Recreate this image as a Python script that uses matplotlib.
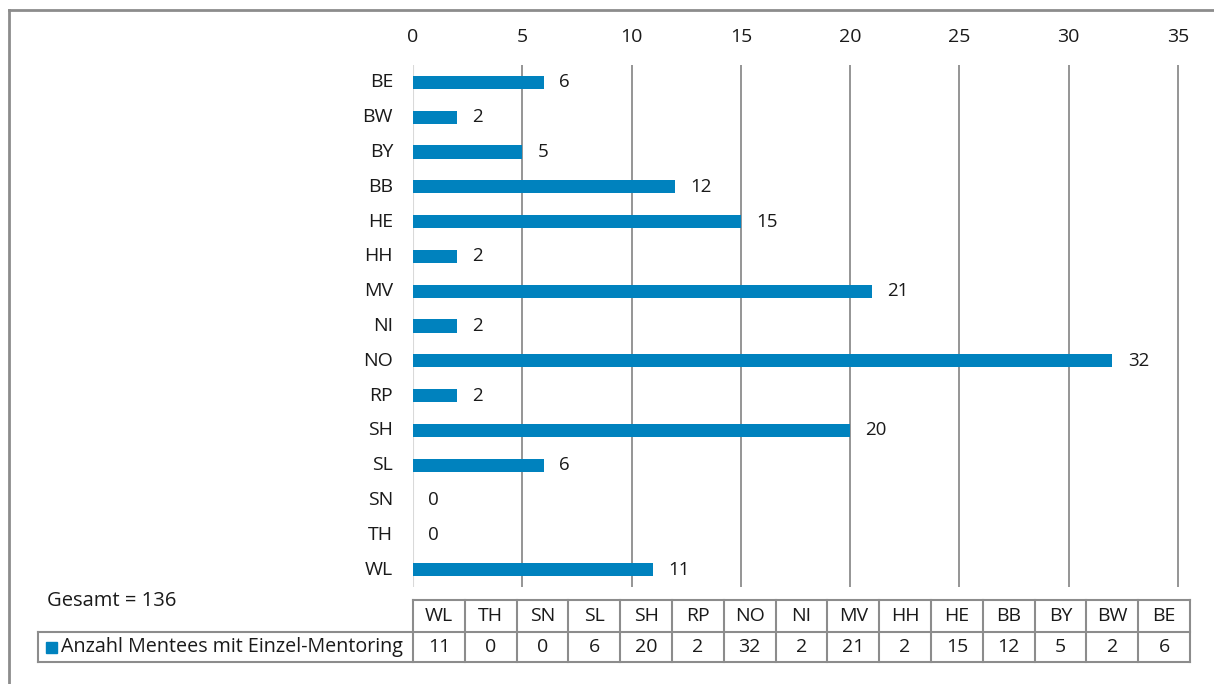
import matplotlib
matplotlib.use("Agg")
import matplotlib.pyplot as plt
from matplotlib.patches import Rectangle

categories = ["BE", "BW", "BY", "BB", "HE", "HH", "MV", "NI", "NO", "RP", "SH", "SL", "SN", "TH", "WL"]
values = [6, 2, 5, 12, 15, 2, 21, 2, 32, 2, 20, 6, 0, 0, 11]
x_ticks = [0, 5, 10, 15, 20, 25, 30, 35]
series_name = "Anzahl Mentees mit Einzel-Mentoring"
total_label = "Gesamt = 136"

BAR = "#0082BE"
GRID = "#8c8c8c"
TXT = "#1a1a1a"
plt.rcParams['font.family'] = ['Open Sans', 'DejaVu Sans']
FS = 14

W, H = 1214, 684
fig = plt.figure(figsize=(W / 100, H / 100), dpi=100)

def fx(px):
    return px / W

def fy(py):
    return 1 - py / H

ax_left, ax_right, ax_top, ax_bot = 413, 1190, 65, 587
ax = fig.add_axes([fx(ax_left), fy(ax_bot), fx(ax_right - ax_left), (ax_bot - ax_top) / H])
xmax = 35 * (ax_right - ax_left) / (1178 - ax_left)
ypos = list(range(len(categories)))
ax.barh(ypos, values, height=0.38, color=BAR, zorder=3)
ax.set_xlim(0, xmax)
ax.set_ylim(len(categories) - 0.5, -0.5)
ax.set_yticks(ypos)
ax.set_yticklabels(categories, fontsize=FS, color=TXT)
ax.set_xticks(x_ticks)
ax.set_xticklabels([str(t) for t in x_ticks], fontsize=FS, color=TXT)
ax.xaxis.tick_top()
ax.tick_params(axis='both', length=0)
ax.tick_params(axis='x', pad=14)
ax.tick_params(axis='y', pad=14.4)
for lbl in ax.get_yticklabels():
    lbl.set_verticalalignment('center')
for s in ax.spines.values():
    s.set_visible(False)
for t in x_ticks:
    if t == 0:
        ax.axvline(t, color="#d9d9d9", lw=1.5, zorder=2)
    else:
        ax.axvline(t, color=GRID, lw=1.3, zorder=1)
for y, v in zip(ypos, values):
    ax.text(v + 0.7, y, str(v), va='center', ha='left', fontsize=13.5, color=TXT)

# outer frame (top and left edges visible)
fig.add_artist(plt.Line2D([fx(8.5), 1.0], [fy(9.5), fy(9.5)], transform=fig.transFigure, color="#8c8c8c", lw=2))
fig.add_artist(plt.Line2D([fx(8.5), fx(8.5)], [fy(9.5), 0], transform=fig.transFigure, color="#8c8c8c", lw=2))

fig.text(fx(47), fy(601), total_label, fontsize=14.5, color=TXT, va='center', ha='left')

# data table
tbl_cats = categories[::-1]
tbl_vals = values[::-1]
n = len(tbl_cats)
colw = (ax_right - ax_left) / n
r0, r1, r2 = 600, 632, 662
LC = "#8c8c8c"

def hline(x0, x1, y):
    fig.add_artist(plt.Line2D([fx(x0), fx(x1)], [fy(y), fy(y)], transform=fig.transFigure, color=LC, lw=1.5))

def vline(x, y0, y1):
    fig.add_artist(plt.Line2D([fx(x), fx(x)], [fy(y0), fy(y1)], transform=fig.transFigure, color=LC, lw=1.5))

hline(ax_left, ax_right, r0)
hline(38, ax_right, r1)
hline(38, ax_right, r2)
vline(38, r1, r2)
for i in range(n + 1):
    vline(ax_left + i * colw, r0, r2)
for i, (c, v) in enumerate(zip(tbl_cats, tbl_vals)):
    cx = ax_left + (i + 0.5) * colw
    fig.text(fx(cx), fy((r0 + r1) / 2), c, ha='center', va='center', fontsize=FS, color=TXT)
    fig.text(fx(cx), fy((r1 + r2) / 2), str(v), ha='center', va='center', fontsize=FS, color=TXT)

fig.add_artist(Rectangle((fx(46), fy(653)), fx(11), 11 / H, transform=fig.transFigure, color=BAR))
fig.text(fx(61), fy((r1 + r2) / 2), series_name, ha='left', va='center', fontsize=14.2, color=TXT)

fig.savefig("out.png", dpi=100)
